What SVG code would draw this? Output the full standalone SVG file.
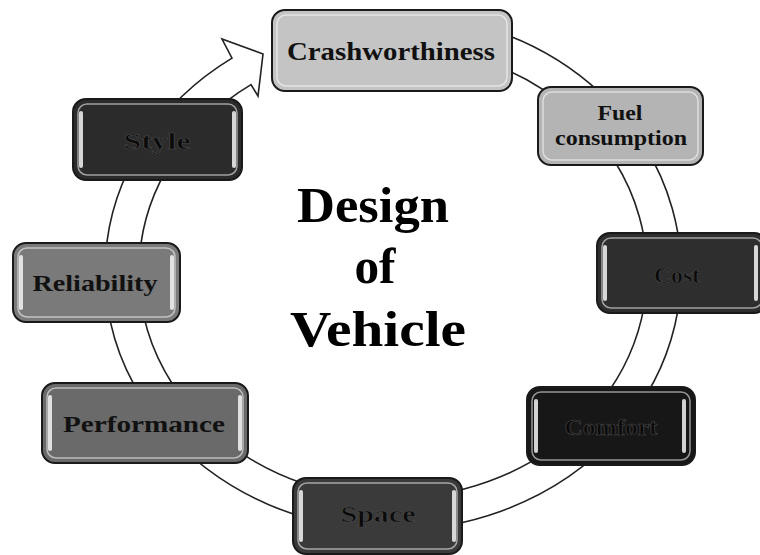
<svg xmlns="http://www.w3.org/2000/svg" width="760" height="555" viewBox="0 0 760 555">
<style>
.box{stroke:#1a1a1a;stroke-width:2}
.hl{fill:none;stroke:#ffffff;stroke-opacity:0.55;stroke-width:1.5}
.bar{fill:#f4f4f4;fill-opacity:0.85}
.t{font-family:"Liberation Serif","Times New Roman",serif;font-weight:bold;text-anchor:middle}
.lt{fill:#111}
.dk{fill:#0a0a0a;stroke:#4a4a4a;stroke-width:0.6}
.ring{fill:#ffffff;stroke:#222;stroke-width:1.6;stroke-linejoin:miter}
</style>
<rect width="760" height="555" fill="#ffffff"/>
<g id="connectors">
<path class="ring" d="M343,17.9 A288,258 0 1 1 232,58.1 L222,39 L263,54 L258,96 L251,84.6 A254,226 0 1 0 348.9,49.4 Z"/>
</g>
<g id="title">
<text class="t" x="373" y="222" font-size="50" textLength="152" lengthAdjust="spacingAndGlyphs" fill="#000">Design</text>
<text class="t" x="375" y="283" font-size="50" textLength="41" lengthAdjust="spacingAndGlyphs" fill="#000">of</text>
<text class="t" x="378" y="346" font-size="50" textLength="176" lengthAdjust="spacingAndGlyphs" fill="#000">Vehicle</text>
</g>
<g id="crashworthiness">
<rect class="box" x="272" y="10" width="240" height="81" rx="13" fill="#c4c4c4"/>
<rect class="hl" x="277" y="15" width="230" height="71" rx="9"/>
<text class="t lt" x="391" y="60" font-size="25" textLength="208" lengthAdjust="spacingAndGlyphs">Crashworthiness</text>
</g>
<g id="fuel">
<rect class="box" x="538" y="87" width="165" height="78" rx="13" fill="#b4b4b4"/>
<rect class="hl" x="543" y="92" width="155" height="68" rx="9"/>
<text class="t lt" x="620" y="120" font-size="21" textLength="45" lengthAdjust="spacingAndGlyphs">Fuel</text>
<text class="t lt" x="621" y="145" font-size="21" textLength="132" lengthAdjust="spacingAndGlyphs">consumption</text>
</g>
<g id="cost">
<rect class="box" x="597" y="233" width="170" height="80" rx="13" fill="#2e2e2e"/>
<rect class="bar" x="603" y="245" width="4" height="56" rx="2"/>
<rect class="bar" x="754" y="245" width="4" height="56" rx="2"/>
<rect class="hl" x="602" y="238" width="160" height="70" rx="9"/>
<text class="t dk" x="677" y="283" font-size="24" textLength="46" lengthAdjust="spacingAndGlyphs">Cost</text>
</g>
<g id="comfort">
<rect class="box" x="527" y="387" width="168" height="78" rx="13" fill="#171717"/>
<rect class="bar" x="534" y="399" width="4" height="54" rx="2"/>
<rect class="bar" x="682" y="399" width="4" height="54" rx="2"/>
<rect class="hl" x="532" y="392" width="158" height="68" rx="9"/>
<text class="t dk" x="611" y="435" font-size="24" textLength="93" lengthAdjust="spacingAndGlyphs">Comfort</text>
</g>
<g id="space">
<rect class="box" x="293" y="478" width="169" height="76" rx="13" fill="#3a3a3a"/>
<rect class="bar" x="299" y="490" width="4" height="52" rx="2"/>
<rect class="bar" x="452" y="490" width="4" height="52" rx="2"/>
<rect class="hl" x="298" y="483" width="159" height="66" rx="9"/>
<text class="t dk" x="378" y="522" font-size="24" textLength="75" lengthAdjust="spacingAndGlyphs">Space</text>
</g>
<g id="performance">
<rect class="box" x="42" y="383" width="206" height="80" rx="13" fill="#6a6a6a"/>
<rect class="bar" x="48" y="395" width="4" height="56" rx="2"/>
<rect class="bar" x="238" y="395" width="4" height="56" rx="2"/>
<rect class="hl" x="47" y="388" width="196" height="70" rx="9"/>
<text class="t lt" x="144" y="432" font-size="24" textLength="162" lengthAdjust="spacingAndGlyphs">Performance</text>
</g>
<g id="reliability">
<rect class="box" x="13" y="243" width="167" height="79" rx="13" fill="#7a7a7a"/>
<rect class="bar" x="19" y="255" width="4" height="55" rx="2"/>
<rect class="bar" x="170" y="255" width="4" height="55" rx="2"/>
<rect class="hl" x="18" y="248" width="157" height="69" rx="9"/>
<text class="t lt" x="95" y="291" font-size="24" textLength="125" lengthAdjust="spacingAndGlyphs">Reliability</text>
</g>
<g id="style">
<rect class="box" x="73" y="99" width="169" height="81" rx="13" fill="#2b2b2b"/>
<rect class="bar" x="79" y="111" width="4" height="57" rx="2"/>
<rect class="bar" x="232" y="111" width="4" height="57" rx="2"/>
<rect class="hl" x="78" y="104" width="159" height="71" rx="9"/>
<text class="t dk" x="157" y="149" font-size="24" textLength="67" lengthAdjust="spacingAndGlyphs">Style</text>
</g>
</svg>
